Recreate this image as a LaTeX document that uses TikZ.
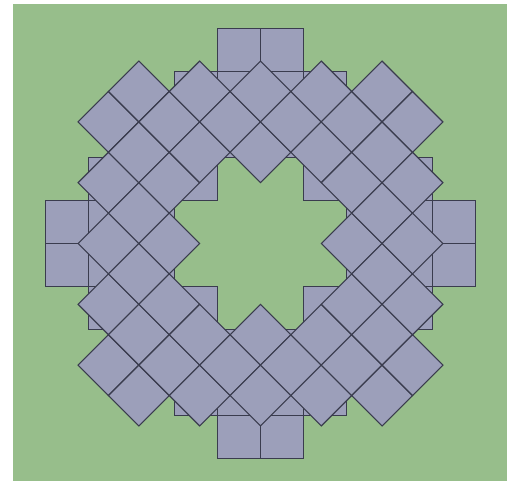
\documentclass[tikz,border=0pt]{standalone}
\usepackage{xcolor}
\usepackage{tikz}
\definecolor{lawn}{RGB}{151,190,139}
\definecolor{slab}{RGB}{156,159,186}
\definecolor{seam}{RGB}{58,60,78}
\tikzset{
  tile/.style={fill=slab,draw=seam,line width=0.75pt,line join=miter},
}
\begin{document}
\begin{tikzpicture}
\useasboundingbox (-6.058,-5.523) rectangle (5.849,5.663);
\fill[lawn] (-5.756,-5.523) rectangle (5.733,5.570);
\begin{scope}
  \foreach \a in {-5,...,4}{
    \foreach \b in {-5,...,4}{
      \pgfmathtruncatemacro\band{abs(2*\a+1)+abs(2*\b+1)}
      \ifnum\band>5 \ifnum\band<11
        \draw[tile] (\a,\b) rectangle ++(1,1);
      \fi\fi
    }
  }
\end{scope}
\begin{scope}
  \def\hs{0.70711}
  \foreach \i in {-5,...,5}{
    \foreach \j in {-5,...,5}{
      \pgfmathtruncatemacro\odd{mod(abs(\i+\j),2)}
      \pgfmathtruncatemacro\ring{max(abs(\i),abs(\j))}
      \ifnum\odd=1 \ifnum\ring>2
        \draw[tile] ({\i*\hs},{(\j+1)*\hs}) -- ++(\hs,-\hs) -- ++(-\hs,-\hs) -- ++(-\hs,\hs) -- cycle;
      \fi\fi
    }
  }
\end{scope}
\end{tikzpicture}
\end{document}
